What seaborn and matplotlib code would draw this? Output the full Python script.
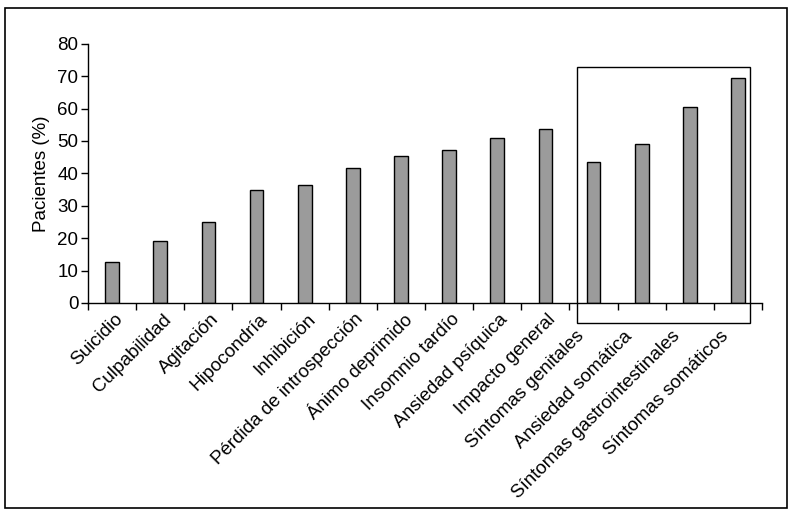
import matplotlib
matplotlib.use("Agg")
import matplotlib.pyplot as plt
from matplotlib.patches import Rectangle
from matplotlib.transforms import ScaledTranslation
import seaborn as sns
import pandas as pd

sns.set_theme(style="white")
plt.rcParams['font.family'] = ['Liberation Sans', 'DejaVu Sans']

categories = ["Suicidio", "Culpabilidad", "Agitación", "Hipocondría", "Inhibición",
              "Pérdida de introspección", "Ánimo deprimido", "Insomnio tardío",
              "Ansiedad psíquica", "Impacto general", "Síntomas genitales",
              "Ansiedad somática", "Síntomas gastrointestinales", "Síntomas somáticos"]
pacientes = [12.6, 19.2, 24.9, 34.8, 36.3, 41.8, 45.5, 47.1, 50.8, 53.6,
             43.4, 49.2, 60.6, 69.6]
yticks = [0, 10, 20, 30, 40, 50, 60, 70, 80]
n_somatic = 4  # last items inside the highlight box

df = pd.DataFrame({"categoria": categories, "pacientes": pacientes})

fig = plt.figure(figsize=(7.93, 5.16), dpi=100)
ax = fig.add_axes([0.111, 0.413, 0.850, 0.502])

sns.barplot(data=df, x="categoria", y="pacientes", color="#9b9b9b",
            saturation=1, width=0.285, edgecolor="black", linewidth=1, ax=ax)

ax.set_xlim(-0.5, len(categories) - 0.5)
ax.set_ylim(0, 80)
ax.set_yticks(yticks)
ax.set_xlabel("")
ax.set_ylabel("Pacientes (%)", fontsize=13.5, color="black", labelpad=5)

# tick marks on category boundaries, labels drawn by hand
ax.set_xticks([i - 0.5 for i in range(len(categories) + 1)])
ax.set_xticklabels([])
ax.tick_params(axis="x", length=5, width=1, color="black", direction="out", bottom=True)
ax.tick_params(axis="y", length=5, width=1, color="black", direction="out", left=True,
               labelsize=13.5, labelcolor="black", pad=2)

first_somatic = len(categories) - n_somatic
for i, lab in enumerate(categories):
    # labels under the box sit lower and a bit to the left
    dx, dy = (8, -14) if i < first_somatic else (-12, -31)
    off = ScaledTranslation(dx / 100, dy / 100, fig.dpi_scale_trans)
    ax.text(i, 0, lab, transform=ax.get_xaxis_transform() + off, rotation=45,
            ha="right", va="center", rotation_mode="anchor", fontsize=13.5,
            color="black")

sns.despine(ax=ax)
for s in ["left", "bottom"]:
    ax.spines[s].set_color("black")
    ax.spines[s].set_linewidth(1)

# highlight box around somatic items
ax.add_patch(Rectangle((first_somatic - 0.35, -6.15), 3.59, 79.15, fill=False,
                       edgecolor="black", linewidth=1, clip_on=False))

# outer frame
fig.add_artist(Rectangle((5 / 793, 1 - 508 / 516), 782 / 793, 500 / 516, fill=False,
                         edgecolor="black", linewidth=1.2, transform=fig.transFigure))

fig.savefig("out.png", dpi=100)
